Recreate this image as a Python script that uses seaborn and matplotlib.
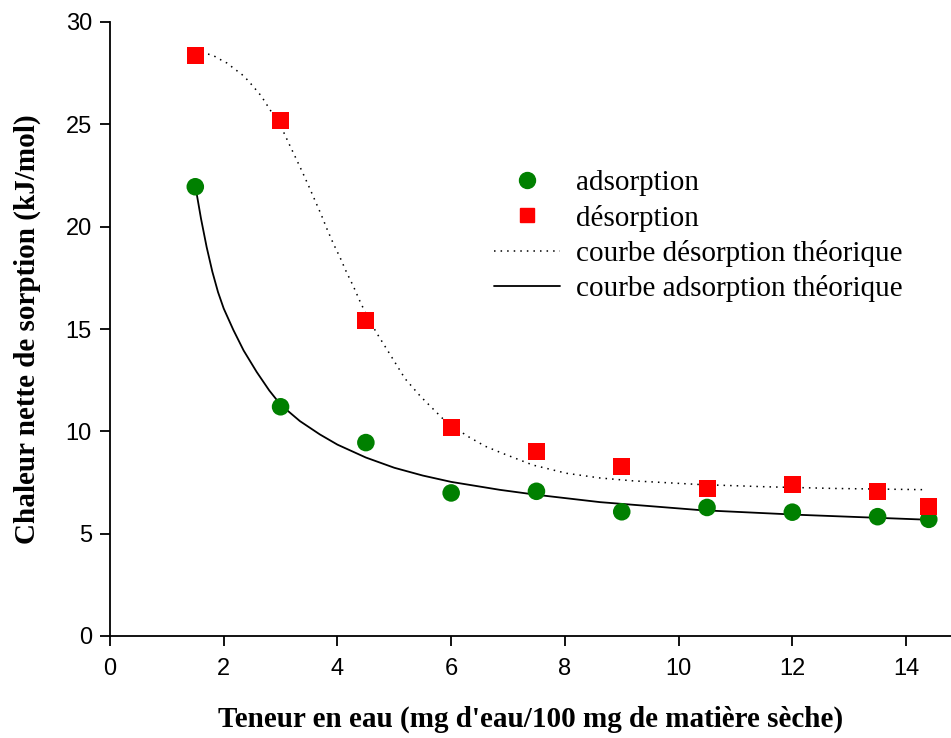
import numpy as np
import pandas as pd
import matplotlib
matplotlib.use("Agg")
import matplotlib.pyplot as plt
from matplotlib.lines import Line2D
import seaborn as sns

# ---- data ----
water = [1.5, 3.0, 4.5, 6.0, 7.5, 9.0, 10.5, 12.0, 13.5, 14.4]
adsorption = [21.95, 11.2, 9.45, 6.99, 7.07, 6.07, 6.28, 6.05, 5.83, 5.70]
desorption = [28.38, 25.2, 15.41, 10.2, 9.01, 8.3, 7.23, 7.39, 7.04, 6.35]

des_curve_x = [1.5, 1.73, 1.85, 1.95, 2.06, 2.16, 2.26, 2.35, 2.45, 2.54, 2.64,
               2.72, 2.8, 2.88, 2.95, 3.03, 3.15, 3.27, 3.39, 3.5, 3.61, 3.72,
               3.82, 3.93, 4.05, 4.16, 4.28, 4.39, 4.51, 4.65, 4.72, 4.88, 5.19,
               5.46, 5.86, 6.27, 6.6, 6.89, 7.44, 8.03, 8.62, 9.2, 10.38, 11.55,
               12.72, 14.3]
des_curve_y = [28.59, 28.43, 28.31, 28.15, 27.99, 27.77, 27.56, 27.37, 27.07,
               26.78, 26.45, 26.13, 25.77, 25.44, 25.08, 24.76, 24.04, 23.34,
               22.63, 21.95, 21.25, 20.55, 19.86, 19.16, 18.47, 17.77, 17.09,
               16.39, 15.69, 15.0, 14.67, 13.96, 12.57, 11.71, 10.6, 9.79, 9.27,
               8.94, 8.35, 7.95, 7.72, 7.58, 7.4, 7.29, 7.21, 7.15]

ads_curve_x = [1.5, 1.6, 1.7, 1.8, 1.9, 2.0, 2.17, 2.35, 2.58, 2.8, 3.0, 3.34,
               3.69, 4.0, 4.5, 5.0, 5.5, 6.0, 6.86, 7.5, 8.62, 10.38, 12.13, 14.39]
ads_curve_y = [22.0, 20.4, 19.0, 17.8, 16.8, 16.0, 14.95, 13.95, 12.9, 12.0,
               11.3, 10.5, 9.85, 9.35, 8.72, 8.22, 7.84, 7.53, 7.14, 6.9, 6.54,
               6.15, 5.92, 5.68]

x_ticks = [0, 2, 4, 6, 8, 10, 12, 14]
y_ticks = [0, 5, 10, 15, 20, 25, 30]

labels = ["adsorption", "désorption", "courbe désorption théorique",
          "courbe adsorption théorique"]
x_label = "Teneur en eau (mg d'eau/100 mg de matière sèche)"
y_label = "Chaleur nette de sorption (kJ/mol)"

# ---- plotting ----
sns.set_style("ticks")
plt.rcParams["font.family"] = ["Liberation Sans", "DejaVu Sans"]
for k in ["text.color", "axes.labelcolor", "xtick.color", "ytick.color",
          "axes.edgecolor"]:
    plt.rcParams[k] = "black"

fig = plt.figure(figsize=(9.51, 7.38), dpi=100)
ax = fig.add_axes([110 / 951, 1 - 636 / 738, (951 - 110) / 951, (636 - 22) / 738])

df_pts = pd.DataFrame({"x": water, "ads": adsorption, "des": desorption})
df_des = pd.DataFrame({"x": des_curve_x, "y": des_curve_y})
df_ads = pd.DataFrame({"x": ads_curve_x, "y": ads_curve_y})

sns.lineplot(data=df_des, x="x", y="y", ax=ax, color="black", lw=1.1,
             linestyle=(0, (1, 3.3)), sort=False, estimator=None)
sns.lineplot(data=df_ads, x="x", y="y", ax=ax, color="black", lw=1.3,
             sort=False, estimator=None)
sns.scatterplot(data=df_pts, x="x", y="ads", ax=ax, color="#008000", marker="o",
                s=160, edgecolor="none", zorder=3)
sns.scatterplot(data=df_pts, x="x", y="des", ax=ax, color="#ff0000", marker="s",
                s=150, edgecolor="none", zorder=3)

ax.set_xlim(0, (951 - 110) / 56.86)
ax.set_ylim(0, 30)
ax.set_xticks(x_ticks)
ax.set_yticks(y_ticks)
ax.set_xticklabels([str(t) for t in x_ticks])
ax.set_yticklabels([str(t) for t in y_ticks])
ax.tick_params(direction="out", length=7, width=1.3, labelsize=17, pad=6,
               colors="black")
ax.tick_params(axis="x", pad=9)
for s in ["top", "right"]:
    ax.spines[s].set_visible(False)
for s in ["left", "bottom"]:
    ax.spines[s].set_linewidth(1.3)
    ax.spines[s].set_color("black")

ax.set_xlabel(x_label, family="Liberation Serif", fontweight="bold",
              fontsize=21, labelpad=18)
ax.set_ylabel(y_label, family="Liberation Serif", fontweight="bold",
              fontsize=21, labelpad=18)

handles = [
    Line2D([], [], marker="o", color="#008000", linestyle="none", markersize=11.5),
    Line2D([], [], marker="s", color="#ff0000", linestyle="none", markersize=10.5),
    Line2D([], [], color="black", lw=1.1, linestyle=(0, (1, 3.3))),
    Line2D([], [], color="black", lw=1.3),
]
leg = ax.legend(handles, labels, frameon=False, loc="upper left",
                bbox_to_anchor=(494 / 951, 1 - 170 / 738),
                bbox_transform=fig.transFigure,
                prop={"family": "Liberation Serif", "size": 21},
                handlelength=2.25, handletextpad=0.55, labelspacing=0.28,
                borderaxespad=0, borderpad=0)

fig.savefig("out.png", dpi=100)
